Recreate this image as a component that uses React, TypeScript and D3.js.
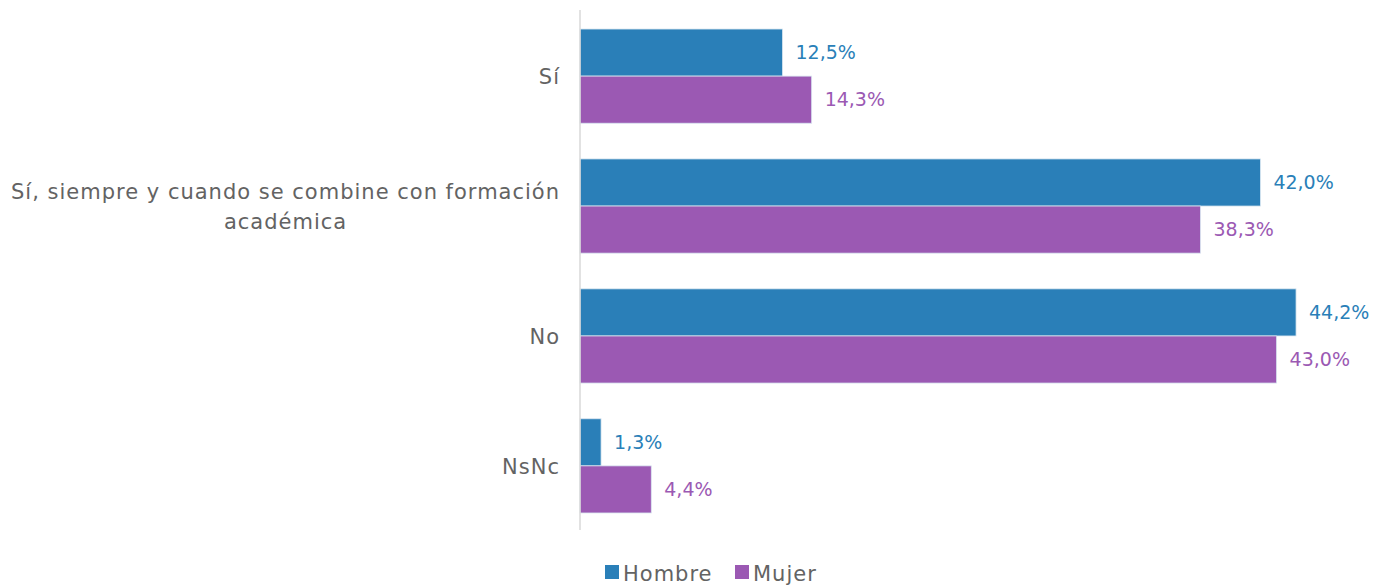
import React, { useEffect, useRef } from "react";
import * as d3 from "d3";

const categories: string[][] = [
  ["Sí"],
  ["Sí, siempre y cuando se combine con formación", "académica"],
  ["No"],
  ["NsNc"],
];
const seriesNames = ["Hombre", "Mujer"];
const hombre = [12.5, 42.0, 44.2, 1.3];
const mujer = [14.3, 38.3, 43.0, 4.4];
const colors = ["#2A7FB8", "#9B59B3"];

const W = 1373;
const H = 586;
const FONT = "'DejaVu Sans', sans-serif";

export default function App() {
  const ref = useRef<SVGSVGElement>(null);
  useEffect(() => {
    const svg = d3.select(ref.current);
    svg.selectAll("*").remove();
    const left = 580;
    const x = d3.scaleLinear().domain([0, 1]).range([left, left + 1620]);
    const y = d3
      .scaleBand<number>()
      .domain(d3.range(categories.length))
      .range([12, 530])
      .paddingInner(0.275)
      .paddingOuter(0.131);
    const inner = d3
      .scaleBand<number>()
      .domain([0, 1])
      .range([0, y.bandwidth()]);
    const series = [hombre, mujer];

    // bars
    series.forEach((vals, si) => {
      const g = svg.append("g");
      g.selectAll("rect")
        .data(vals)
        .join("rect")
        .attr("x", x(0))
        .attr("y", (_d, i) => (y(i) as number) + (inner(si) as number))
        .attr("width", (d) => x(d / 100) - x(0))
        .attr("height", inner.bandwidth())
        .attr("fill", colors[si])
        .attr("stroke", "#d9e6f0")
        .attr("stroke-width", 0.8);
      g.selectAll("text")
        .data(vals)
        .join("text")
        .attr("x", (d) => x(d / 100) + 13)
        .attr(
          "y",
          (_d, i) => (y(i) as number) + (inner(si) as number) + inner.bandwidth() / 2
        )
        .attr("dy", "0.35em")
        .attr("fill", colors[si])
        .style("font-family", FONT)
        .style("font-size", "19px")
        .text((d) => d.toFixed(1).replace(".", ",") + "%");
    });

    // axis line
    svg
      .append("line")
      .attr("x1", x(0))
      .attr("x2", x(0))
      .attr("y1", 10)
      .attr("y2", 530)
      .attr("stroke", "#d9d9d9")
      .attr("stroke-width", 1.5);

    // category labels
    categories.forEach((lines, i) => {
      const cy = (y(i) as number) + y.bandwidth() / 2;
      const lh = 30;
      const g = svg.append("g");
      const texts = g
        .selectAll("text")
        .data(lines)
        .join("text")
        .attr("y", (_d, j) => cy + 1 + (j - (lines.length - 1) / 2) * lh)
        .attr("dy", "0.35em")
        .attr("fill", "#636363")
        .style("font-family", FONT)
        .style("font-size", "21px")
        .style("letter-spacing", "1px")
        .text((d) => d);
      const widths = texts.nodes().map((n) => (n as SVGTextElement).getComputedTextLength());
      const maxW = d3.max(widths) || 0;
      const right = x(0) - 20;
      const center = right - maxW / 2;
      texts.attr("x", center).attr("text-anchor", "middle");
    });

    // legend
    const lg = svg.append("g");
    const items = [
      { name: seriesNames[0], x: 605 },
      { name: seriesNames[1], x: 735 },
    ];
    items.forEach((it, i) => {
      lg.append("rect")
        .attr("x", it.x)
        .attr("y", 565)
        .attr("width", 14)
        .attr("height", 14)
        .attr("fill", colors[i]);
      lg.append("text")
        .attr("x", it.x + 18)
        .attr("y", 574)
        .attr("dy", "0.35em")
        .attr("fill", "#636363")
        .style("font-family", FONT)
        .style("font-size", "21px")
        .style("letter-spacing", "1px")
        .text(it.name);
    });
  }, []);
  return (
    <svg
      ref={ref}
      width={W}
      height={H}
      style={{ position: "absolute", left: 0, top: 0, background: "#fff" }}
    />
  );
}
